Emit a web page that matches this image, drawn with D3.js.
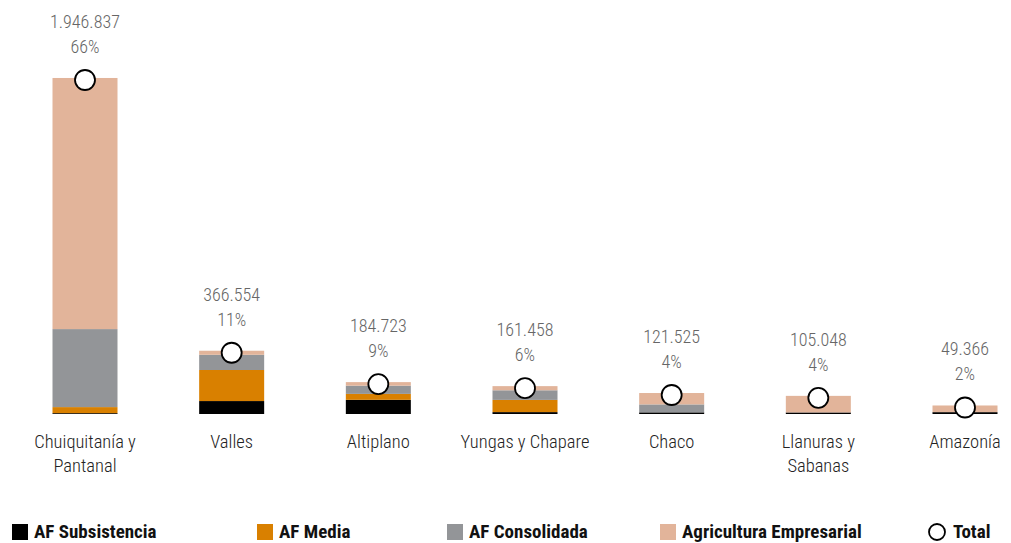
<!DOCTYPE html>
<html>
<head>
<meta charset="utf-8">
<script src="https://cdn.jsdelivr.net/npm/d3@7"></script>
<style>
  body { margin: 0; background: #fff; }
  svg { display: block; font-family: "Roboto Condensed", "Roboto", sans-serif; }
</style>
</head>
<body>
<svg id="chart" width="1011" height="543"></svg>
<script>
const categories = [["Chuiquitanía y", "Pantanal"], ["Valles"], ["Altiplano"], ["Yungas y Chapare"], ["Chaco"], ["Llanuras y", "Sabanas"], ["Amazonía"]];
const subsistencia = [5000, 75000, 82100, 11000, 9500, 9000, 10800];
const media = [35000, 180000, 34400, 70700, 0, 0, 0];
const consolidada = [452000, 88000, 47700, 55700, 46100, 0, 0];
const empresarial = [1454837, 23554, 20523, 24058, 65925, 96048, 38566];
const totals = [1946837, 366554, 184723, 161458, 121525, 105048, 49366];
const totalLabels = ["1.946.837", "366.554", "184.723", "161.458", "121.525", "105.048", "49.366"];
const percentLabels = ["66%", "11%", "9%", "6%", "4%", "4%", "2%"];

const seriesNames = ["AF Subsistencia", "AF Media", "AF Consolidada", "Agricultura Empresarial"];
const colors = ["#000000", "#d98000", "#939598", "#e2b49a"];

const svg = d3.select('#chart');

let keys = categories.map((c) => c.join(' '));
let rows = keys.map((k, i) => ({
    key: k,
    s0: subsistencia[i], s1: media[i], s2: consolidada[i], s3: empresarial[i]
}));

let x = d3.scalePoint().domain(keys).range([85, 965]);
let y = d3.scaleLinear().domain([0, 2000000]).range([414, 68.8]);
let barW = 65;

let stacked = d3.stack().keys(["s0", "s1", "s2", "s3"])(rows);

stacked.forEach((layer, li) => {
    svg.append('g')
      .selectAll('rect')
      .data(layer)
      .join('rect')
      .attr('x', (d) => x(d.data.key) - barW / 2)
      .attr('width', barW)
      .attr('y', (d) => y(d[1]))
      .attr('height', (d) => y(d[0]) - y(d[1]))
      .attr('fill', colors[li]);
});

// total markers
svg.append('g')
  .selectAll('circle')
  .data(totals)
  .join('circle')
  .attr('cx', (d, i) => x(keys[i]))
  .attr('cy', (d) => y(d) + 2)
  .attr('r', 10)
  .attr('fill', '#fff')
  .attr('stroke', '#000')
  .attr('stroke-width', 1.8);

// value + percent labels
let labels = svg.append('g')
  .attr('fill', '#666')
  .attr('font-size', 18)
  .attr('font-weight', 300)
  .attr('text-anchor', 'middle');

totals.forEach((t, i) => {
    labels.append('text')
      .attr('x', x(keys[i]))
      .attr('y', y(t) - 50)
      .text(totalLabels[i]);
    labels.append('text')
      .attr('x', x(keys[i]))
      .attr('y', y(t) - 25)
      .text(percentLabels[i]);
});

// category labels
let cats = svg.append('g')
  .attr('fill', '#222')
  .attr('font-size', 18.5)
  .attr('font-weight', 300)
  .attr('text-anchor', 'middle');

categories.forEach((lines, i) => {
    let t = cats.append('text').attr('x', x(keys[i])).attr('y', 448);
    lines.forEach((line, j) => {
        t.append('tspan')
          .attr('x', x(keys[i]))
          .attr('dy', j === 0 ? 0 : 24)
          .text(line);
    });
});

// legend
let legendX = [12, 257, 447, 660];
let legend = svg.append('g')
  .attr('font-size', 19)
  .attr('font-weight', 'bold')
  .attr('fill', '#111');

seriesNames.forEach((name, i) => {
    legend.append('rect')
      .attr('x', legendX[i])
      .attr('y', 524)
      .attr('width', 16)
      .attr('height', 16)
      .attr('fill', colors[i]);
    legend.append('text')
      .attr('x', legendX[i] + 22)
      .attr('y', 538)
      .text(name);
});

legend.append('circle')
  .attr('cx', 937)
  .attr('cy', 532)
  .attr('r', 8)
  .attr('fill', '#fff')
  .attr('stroke', '#000')
  .attr('stroke-width', 1.8);
legend.append('text')
  .attr('x', 953)
  .attr('y', 538)
  .text('Total');
</script>
</body>
</html>
